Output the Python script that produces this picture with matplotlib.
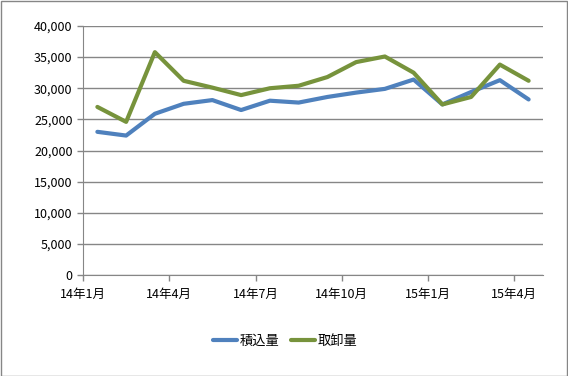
import matplotlib
matplotlib.use("Agg")
import matplotlib.pyplot as plt
from matplotlib.patches import Rectangle
from matplotlib.ticker import FuncFormatter

plt.rcParams["font.family"] = ["Noto Sans CJK JP", "DejaVu Sans"]

# monthly values, 14年1月 .. 15年4月
months = ["14年1月", "14年2月", "14年3月", "14年4月", "14年5月", "14年6月",
          "14年7月", "14年8月", "14年9月", "14年10月", "14年11月", "14年12月",
          "15年1月", "15年2月", "15年3月", "15年4月"]
loading = [23000, 22400, 25900, 27500, 28100, 26500, 28000, 27700,
           28600, 29300, 29900, 31400, 27400, 29400, 31300, 28200]
unloading = [27000, 24600, 35800, 31200, 30100, 28900, 30000, 30400,
             31800, 34200, 35100, 32500, 27400, 28600, 33800, 31200]
tick_every = 3

fig = plt.figure(figsize=(5.68, 3.76), dpi=100)
ax = fig.add_axes([83 / 568, 1 - 275 / 376, 460 / 568, 249 / 376])

x = [i + 0.5 for i in range(len(months))]
ax.plot(x, loading, color="#4F81BD", lw=3, label="積込量", solid_capstyle="round")
ax.plot(x, unloading, color="#77933C", lw=3, label="取卸量", solid_capstyle="round")

ax.set_xlim(0, len(months))
ax.set_ylim(0, 40000)
ax.set_yticks(range(0, 40001, 5000))
ax.yaxis.set_major_formatter(FuncFormatter(lambda v, p: f"{int(v):,}"))
ax.set_xticks(range(0, len(months), tick_every))
ax.set_xticklabels(months[::tick_every])

ax.grid(axis="y", color="#868686", lw=1)
ax.set_axisbelow(True)
for side in ["top", "right"]:
    ax.spines[side].set_visible(False)
for side in ["left", "bottom"]:
    ax.spines[side].set_color("#868686")
ax.tick_params(axis="both", colors="#868686", length=4, width=1,
               labelcolor="#000000", labelsize=9)
ax.tick_params(axis="x", pad=5)

fig.legend(loc="center", bbox_to_anchor=(285 / 568, 1 - 341 / 376), ncol=2,
           frameon=False, fontsize=9.5, handlelength=1.8, handletextpad=0.2,
           columnspacing=0.9)

fig.patches.append(Rectangle((0.5 / 568, 0.5 / 376), 566.5 / 568, 374.5 / 376,
                             transform=fig.transFigure, fill=False,
                             edgecolor="#868686", lw=1))

fig.savefig("out.png", dpi=100)
